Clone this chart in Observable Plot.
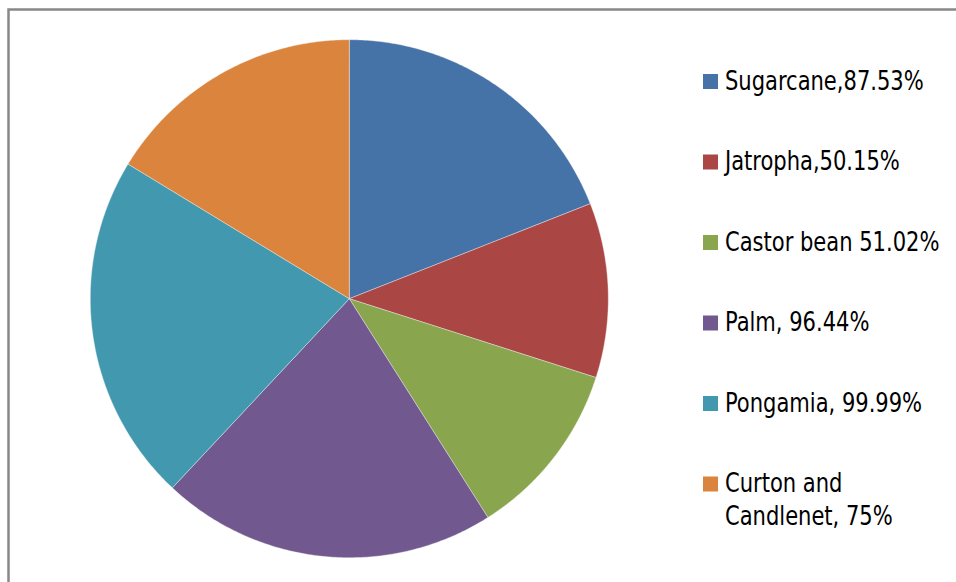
<!DOCTYPE html>
<html>
<head>
<meta charset="utf-8">
<script src="https://cdn.jsdelivr.net/npm/d3@7"></script>
<script src="https://cdn.jsdelivr.net/npm/@observablehq/plot@0.6"></script>
<style>
  html, body { margin: 0; padding: 0; background: #fff; overflow: hidden; }
  #chart svg { display: block; overflow: visible; }
  #chart g.legend-text { transform-origin: 725px 0px; transform: scaleX(0.9); }
</style>
</head>
<body>
<div id="chart"></div>
<script>
// ---- Data ----
const categories = ["Sugarcane", "Jatropha", "Castor bean", "Palm", "Pongamia", "Curton and Candlenet"];
const values = [87.53, 50.15, 51.02, 96.44, 99.99, 75];
const legendLabels = ["Sugarcane,87.53%", "Jatropha,50.15%", "Castor bean 51.02%", "Palm, 96.44%", "Pongamia, 99.99%", "Curton and\nCandlenet, 75%"];
const colors = ["#4572A7", "#AA4643", "#89A54E", "#71588F", "#4198AF", "#DB843D"];

// ---- Layout ----
const W = 956, H = 582;
const cx = 348.8, cy = 298.2, R = 259;
const fontSize = 26;
const legendX = 725, sqX1 = 703, sqX2 = 718, sqSize = 15;
const firstBaseline = 89, rowStep = 80.5, textShift = -4;

const rows = categories.map((c, i) => ({category: c, value: values[i], label: legendLabels[i]}));
const arcs = d3.pie().sort(null).value(d => d.value)(rows);

// Build slice polygons from pie angles (0 = 12 o'clock, clockwise)
const slicePts = [];
for (const a of arcs) {
  const n = Math.max(2, Math.ceil((a.endAngle - a.startAngle) / 0.01));
  slicePts.push({category: a.data.category, x: cx, y: cy});
  for (let k = 0; k <= n; k++) {
    const t = a.startAngle + (a.endAngle - a.startAngle) * k / n;
    slicePts.push({category: a.data.category, x: cx + R * Math.sin(t), y: cy - R * Math.cos(t)});
  }
  slicePts.push({category: a.data.category, x: cx, y: cy});
}

const legendRows = rows.map((r, i) => ({...r, baseline: firstBaseline + i * rowStep}));

const plot = Plot.plot({
  width: W,
  height: H,
  margin: 0,
  x: {domain: [0, W], range: [0, W], axis: null},
  y: {domain: [0, H], range: [0, H], axis: null},
  color: {domain: categories, range: colors},
  style: {fontFamily: "'Liberation Sans Narrow', 'DejaVu Sans Condensed', 'Liberation Sans', sans-serif", background: "white", overflow: "visible"},
  marks: [
    Plot.frame({stroke: "#888", strokeWidth: 2.5, insetLeft: 8, insetTop: 9, insetRight: -20, insetBottom: -20}),
    Plot.line(slicePts, {x: "x", y: "y", z: "category", fill: "category", stroke: "#f4f4f4", strokeWidth: 0.4, strokeLinejoin: "round", curve: "linear"}),
    Plot.rect(legendRows, {
      x1: () => sqX1, x2: () => sqX2,
      y1: d => d.baseline - sqSize, y2: d => d.baseline,
      fill: "category"
    }),
    Plot.text(legendRows, {
      x: () => legendX,
      y: d => d.baseline - 0.71 * fontSize + textShift,
      text: "label",
      textAnchor: "start",
      lineAnchor: "top",
      lineHeight: 33 / fontSize,
      fontSize: fontSize,
      fill: "#000",
      className: "legend-text"
    })
  ]
});
document.getElementById("chart").appendChild(plot);
</script>
</body>
</html>
